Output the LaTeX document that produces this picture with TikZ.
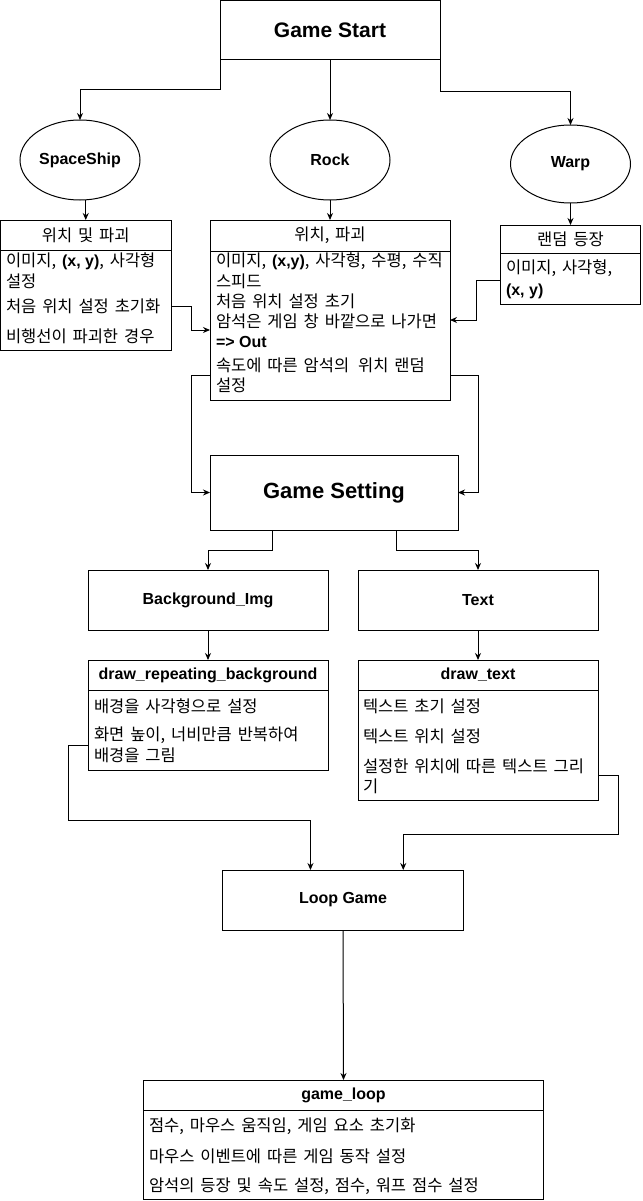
\documentclass[tikz,border=0pt]{standalone}
\usepackage{fontspec}
\setmainfont{Liberation Sans}
\newfontfamily\kr[WordSpace=1.6]{Noto Sans CJK KR}
\usetikzlibrary{arrows.meta,shapes.geometric,calc}
\begin{document}
\begin{tikzpicture}[x=1pt,y=-1pt,
  every node/.style={inner sep=0pt, outer sep=0pt},
  box/.style={draw, line width=1pt, rectangle},
  oval/.style={draw, line width=1pt, ellipse},
  arr/.style={line width=1pt, -{Stealth[length=7pt,width=6pt]}},
  item/.style={anchor=west, font=\kr\fontsize{16.5}{18}\selectfont},
  bitem/.style={anchor=west, font=\bfseries\fontsize{16}{18}\selectfont},
  khead/.style={font=\kr\fontsize{16.5}{18}\selectfont},
  lhead/.style={font=\bfseries\fontsize{16}{18}\selectfont},
]
\fill[white] (0,0) rectangle (642,1201);
\useasboundingbox (0,0) rectangle (642,1201);

% top level
\node[box, minimum width=220pt, minimum height=59pt, font=\bfseries\fontsize{21}{24}\selectfont] (start) at (330,30.5) {Game Start};
\node[oval, minimum width=120pt, minimum height=80pt, lhead] (ss) at (80,160) {SpaceShip};
\node[oval, minimum width=120pt, minimum height=80pt, lhead] (rock) at (330,160) {Rock};
\node[oval, minimum width=120pt, minimum height=78pt, lhead] (warp) at (570.5,164) {Warp};

% SpaceShip list
\node[box, minimum width=170.5pt, minimum height=30pt, khead] (sshead) at (85.75,235) {위치 및 파괴};
\node[box, minimum width=170.5pt, minimum height=100pt] (ssbody) at (85.75,300) {};
\node[item] (ssi1) at (6,261.7) {이미지, {\normalfont\bfseries\fontsize{16}{18}\selectfont(x, y)}, 사각형};
\node[item] (ssi2) at (6,281.7) {설정};
\node[item] (ssi3) at (6,306.7) {처음 위치 설정 초기화};
\node[item] (ssi4) at (6,336.7) {비행선이 파괴한 경우};

% Rock list
\node[box, minimum width=240pt, minimum height=31pt, khead] (rockhead) at (330,235.5) {위치, 파괴};
\node[box, minimum width=240pt, minimum height=149pt] (rockbody) at (330,325.5) {};
\node[item] (rki1) at (216,261.7) {이미지, {\normalfont\bfseries\fontsize{16}{18}\selectfont(x,y)}, 사각형, 수평, 수직};
\node[item] (rki2) at (216,281.7) {스피드};
\node[item] (rki3) at (216,301.7) {처음 위치 설정 초기};
\node[item] (rki4) at (216,321.7) {암석은 게임 창 바깥으로 나가면};
\node[bitem] (rki5) at (216,341.7) {=> Out};
\node[item] (rki6) at (216,365) {속도에 따른 암석의\hspace{3pt} 위치 랜덤};
\node[item] (rki7) at (216,385) {설정};

% Warp list
\node[box, minimum width=140pt, minimum height=28pt, khead] (warphead) at (570.5,239) {랜덤 등장};
\node[box, minimum width=140pt, minimum height=51pt] (warpbody) at (570.5,278.5) {};
\node[item] (wi1) at (506,268.3) {이미지, 사각형,};
\node[bitem] (wi2) at (506,291.7) {(x, y)};

% Game Setting
\node[box, minimum width=248pt, minimum height=75pt, font=\bfseries\fontsize{22}{25}\selectfont] (gs) at (334,492.5) {Game Setting};
\node[box, minimum width=240pt, minimum height=60pt, lhead] (bg) at (208,600) {Background\_Img};
\node[box, minimum width=240pt, minimum height=60pt, lhead] (txt) at (478,600) {Text};

% draw_repeating_background list
\node[box, minimum width=240pt, minimum height=30pt, lhead] (drbhead) at (208,675) {draw\_repeating\_background};
\node[box, minimum width=240pt, minimum height=80pt] (drbbody) at (208,730) {};
\node[item] (di1) at (94,706.7) {배경을 사각형으로 설정};
\node[item] (di2) at (94,735.7) {화면 높이, 너비만큼 반복하여};
\node[item] (di3) at (94,755.7) {배경을 그림};

% draw_text list
\node[box, minimum width=240pt, minimum height=30pt, lhead] (dthead) at (478,675) {draw\_text};
\node[box, minimum width=240pt, minimum height=110pt] (dtbody) at (478,745) {};
\node[item] (ti1) at (363,706.7) {텍스트 초기 설정};
\node[item] (ti2) at (363,736.7) {텍스트 위치 설정};
\node[item] (ti3) at (363,766.7) {설정한 위치에 따른 텍스트 그리};
\node[item] (ti4) at (363,786.7) {기};

% Loop
\node[box, minimum width=241pt, minimum height=60pt, lhead] (loop) at (343,900) {Loop Game};
\node[box, minimum width=400pt, minimum height=30pt, lhead] (glhead) at (343.5,1095) {game\_loop};
\node[box, minimum width=400pt, minimum height=89pt] (glbody) at (343.5,1154.5) {};
\node[item] (gi1) at (149,1126.7) {점수, 마우스 움직임, 게임 요소 초기화};
\node[item] (gi2) at (149,1156.7) {마우스 이벤트에 따른 게임 동작 설정};
\node[item] (gi3) at (149,1186.7) {암석의 등장 및 속도 설정, 점수, 워프 점수 설정};

% connectors
\draw[arr] (start.south west) -- ++(0,30) -| (ss.north);
\draw[arr] (start.south) -- (rock.north);
\draw[arr] (start.south east) -- ++(0,32) -| (warp.north);
\draw[arr] (ss.south -| sshead.north) -- (sshead.north);
\draw[arr] (rock.south) -- (rockhead.north);
\draw[arr] (warp.south) -- (warphead.north);
\draw[arr] (ssbody.east |- ssi3) -- ++(20,0) |- (rockbody.west |- 0,330);
\draw[arr] (warpbody.west |- 0,280) -- ++(-24,0) |- (rockbody.east |- 0,320);
\draw[arr] (rockbody.west |- 0,375) -- ++(-19,0) |- (gs.west);
\draw[arr] (rockbody.east |- 0,375) -- ++(28,0) |- (gs.east);
\draw[arr] ($(gs.south west)!0.25!(gs.south east)$) -- ++(0,20) -| (bg.north);
\draw[arr] ($(gs.south west)!0.75!(gs.south east)$) -- ++(0,20) -| (txt.north);
\draw[arr] (bg.south) -- (drbhead.north);
\draw[arr] (txt.south) -- (dthead.north);
\draw[arr] (drbbody.west |- 0,745.7) -- ++(-20,0) -- ++(0,75) -| ($(loop.north west)!0.365!(loop.north east)$);
\draw[arr] (dtbody.east |- 0,775.7) -- ++(20,0) -- ++(0,59) -| ($(loop.north west)!0.75!(loop.north east)$);
\draw[arr] (loop.south) -- (glhead.north);
\end{tikzpicture}
\end{document}
